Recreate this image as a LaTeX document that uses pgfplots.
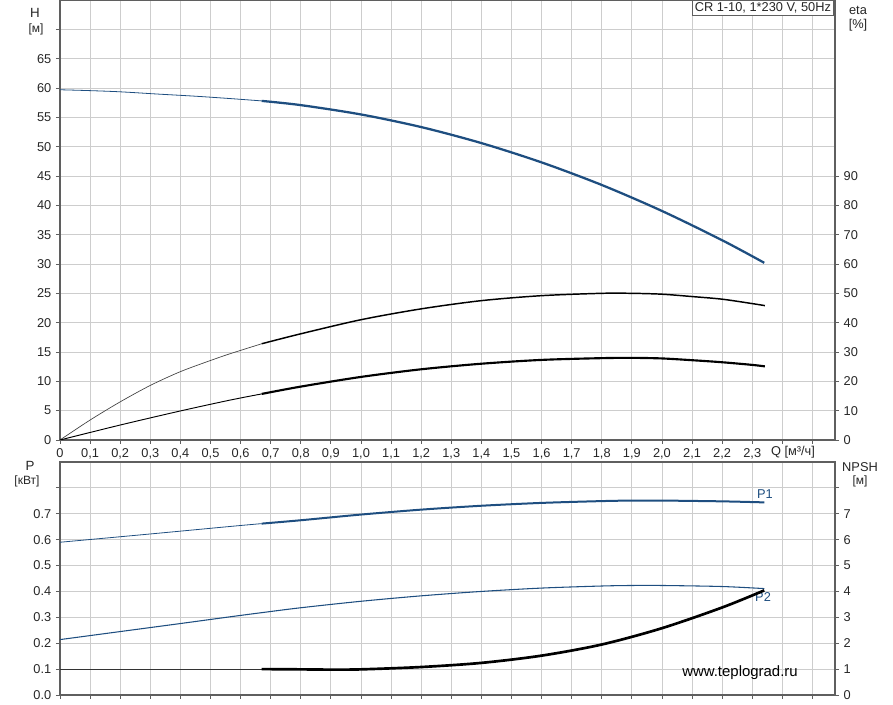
\documentclass[border=0pt]{standalone}
\usepackage{fontspec}
\setmainfont{Liberation Sans}
\usepackage{pgfplots}
\pgfplotsset{compat=1.18}
\definecolor{cblue}{RGB}{30,78,128}
\definecolor{gridc}{RGB}{205,205,205}
\definecolor{spine}{RGB}{95,95,95}
\begin{document}
\begin{tikzpicture}
\useasboundingbox (0,0) rectangle (669.75pt,528.75pt);
\pgfplotsset{
 base/.style={scale only axis, width=581.25pt, xmin=0, xmax=2.575,
   xtick={0,0.1,0.2,0.3,0.4,0.5,0.6,0.7,0.8,0.9,1.0,1.1,1.2,1.3,1.4,1.5,1.6,1.7,1.8,1.9,2.0,2.1,2.2,2.3,2.4,2.5},
   tick align=outside, major tick length=3pt,
   axis line style={spine, line width=0.9pt},
   tick style={spine, line width=0.6pt},
   ticklabel style={font=\fontsize{9.6}{11}\selectfont, text=black!85},
   /pgf/number format/assume math mode=true,
   major grid style={gridc, line width=0.6pt},
 },
 rbase/.style={scale only axis, width=581.25pt, xmin=0, xmax=2.575,
   axis x line=none, axis y line*=right,
   tick align=outside, major tick length=3pt,
   axis line style={spine, line width=0.9pt},
   tick style={spine, line width=0.6pt},
   ticklabel style={font=\fontsize{9.6}{11}\selectfont, text=black!85},
   /pgf/number format/assume math mode=true,
 },
}
% ---------- top panel: H ----------
\begin{axis}[base, at={(45pt,198.75pt)}, anchor=south west, height=330pt,
  ymin=0, ymax=75, ytick={0,5,10,15,20,25,30,35,40,45,50,55,60,65,70},
  yticklabels={0,5,10,15,20,25,30,35,40,45,50,55,60,65,{}},
  xticklabels={0,{0,1},{0,2},{0,3},{0,4},{0,5},{0,6},{0,7},{0,8},{0,9},{1,0},{1,1},{1,2},{1,3},{1,4},{1,5},{1,6},{1,7},{1,8},{1,9},{2,0},{2,1},{2,2},{2,3},{},{}},
  xtick pos=bottom, ytick pos=left, grid=major]
\addplot[cblue, line width=0.6pt, smooth] coordinates {(0,59.7)(0.1,59.55)(0.2,59.35)(0.33,58.95)(0.45,58.6)(0.565,58.2)(0.67,57.8)};
\addplot[cblue, line width=1.7pt, smooth] coordinates {(0.67,57.8)(0.8,57.08)(1.0,55.49)(1.2,53.34)(1.4,50.61)(1.6,47.32)(1.8,43.47)(2.0,39.04)(2.2,34.05)(2.34,30.2)};
\end{axis}
% ---------- top panel: eta ----------
\begin{axis}[rbase, at={(45pt,198.75pt)}, anchor=south west, height=330pt,
  ymin=0, ymax=150, ytick={0,10,20,30,40,50,60,70,80,90}]
\addplot[black!75, line width=0.5pt, smooth] coordinates {(0,0)(0.1,6.8)(0.2,13)(0.3,18.6)(0.4,23.3)(0.5,27.1)(0.565,29.4)(0.67,32.8)};
\addplot[black, line width=1.1pt, smooth] coordinates {(0.67,32.8)(0.8,36.2)(1.0,41.0)(1.2,44.7)(1.4,47.5)(1.6,49.2)(1.8,50.0)(1.9,50.0)(2.0,49.7)(2.1,48.9)(2.2,48.0)(2.3,46.5)(2.342,45.8)};
\addplot[black, line width=0.7pt, smooth] coordinates {(0,0)(0.2,5.1)(0.4,9.9)(0.565,13.6)(0.67,15.7)};
\addplot[black, line width=1.6pt, smooth] coordinates {(0.67,15.7)(0.8,18.2)(1.0,21.5)(1.2,24.1)(1.4,26.0)(1.6,27.3)(1.8,27.9)(1.9,28.0)(2.0,27.8)(2.1,27.2)(2.2,26.5)(2.3,25.6)(2.342,25.1)};
\end{axis}
% ---------- bottom panel: P ----------
\begin{axis}[base, at={(45pt,7.5pt)}, anchor=south west, height=174.75pt,
  ymin=0, ymax=0.9, ytick={0,0.1,0.2,0.3,0.4,0.5,0.6,0.7,0.8},
  yticklabels={0.0,0.1,0.2,0.3,0.4,0.5,0.6,0.7,{}},
  xticklabels={}, xtick pos=bottom, ytick pos=left, grid=major]
\addplot[cblue, line width=0.6pt, smooth] coordinates {(0,0.590)(0.3,0.622)(0.565,0.651)(0.67,0.662)};
\addplot[cblue, line width=1.5pt, smooth] coordinates {(0.67,0.662)(0.8,0.675)(1.0,0.697)(1.2,0.716)(1.4,0.731)(1.6,0.742)(1.8,0.749)(1.9,0.751)(2.0,0.751)(2.2,0.748)(2.34,0.744)};
\addplot[cblue, line width=0.8pt, smooth] coordinates {(0,0.214)(0.2,0.245)(0.4,0.276)(0.565,0.302)(0.67,0.318)(0.8,0.337)(1.0,0.362)(1.2,0.383)(1.4,0.400)(1.6,0.413)(1.8,0.421)(1.9,0.423)(2.0,0.423)(2.2,0.419)(2.34,0.411)};
\node[cblue, font=\fontsize{9.6}{11}\selectfont] at (axis cs:2.342,0.775) {P1};
\node[cblue, font=\fontsize{9.6}{11}\selectfont] at (axis cs:2.336,0.378) {P2};
\end{axis}
% ---------- bottom panel: NPSH ----------
\begin{axis}[rbase, at={(45pt,7.5pt)}, anchor=south west, height=174.75pt,
  ymin=0, ymax=9, ytick={0,1,2,3,4,5,6,7,8}, yticklabels={0,1,2,3,4,5,6,7,{}}]
\addplot[black!80, line width=0.7pt] coordinates {(0,1.0)(0.67,1.0)};
\addplot[black, line width=2pt, smooth] coordinates {(0.67,1.0)(0.8,0.99)(0.9,0.98)(1.0,0.99)(1.2,1.08)(1.4,1.24)(1.6,1.52)(1.8,1.95)(2.0,2.58)(2.2,3.38)(2.34,4.04)};
\end{axis}
% ---------- texts ----------
\node[font=\fontsize{10}{11}\selectfont, text=black!85] at (26.25pt,519pt) {H};
\node[font=\fontsize{9}{10}\selectfont, text=black!85] at (27pt,507pt) {[м]};
\node[font=\fontsize{9.6}{11}\selectfont, text=black!85] at (643.5pt,521.25pt) {eta};
\node[font=\fontsize{9.6}{11}\selectfont, text=black!85] at (643.5pt,510pt) {[\%]};
\node[font=\fontsize{10}{11}\selectfont, text=black!85] at (22.5pt,179.25pt) {P};
\node[font=\fontsize{9}{10}\selectfont, text=black!85] at (20.25pt,168pt) {[кВт]};
\node[font=\fontsize{9.6}{11}\selectfont, text=black!85] at (645pt,178.5pt) {NPSH};
\node[font=\fontsize{9}{10}\selectfont, text=black!85] at (645pt,168pt) {[м]};
\node[font=\fontsize{9.6}{11}\selectfont, text=black!85] at (594.75pt,189.75pt) {Q [м³/ч]};
\node[anchor=north east, draw=spine, fill=white, line width=0.6pt, inner xsep=2pt, inner ysep=1.6pt, font=\fontsize{9.6}{11}\selectfont, text=black!85] at (625.5pt,528.75pt) {CR 1-10, 1*230 V, 50Hz};
\node[font=\fontsize{11.2}{13}\selectfont] at (555pt,24pt) {www.teplograd.ru};
\end{tikzpicture}
\end{document}
